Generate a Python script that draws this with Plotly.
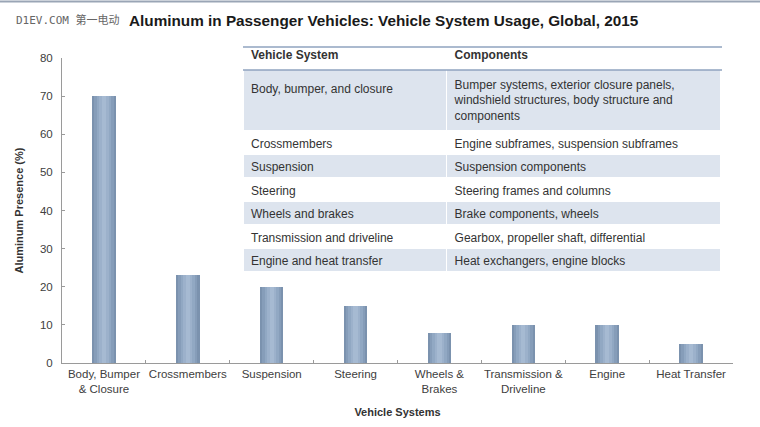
import plotly.graph_objects as go

categories = ["Body, Bumper<br>& Closure", "Crossmembers", "Suspension", "Steering",
              "Wheels &<br>Brakes", "Transmission &<br>Driveline", "Engine", "Heat Transfer"]
values = [70, 23, 20, 15, 8, 10, 10, 5]
y_ticks = [0, 10, 20, 30, 40, 50, 60, 70, 80]

table_header = ["Vehicle System", "Components"]
table_systems = ["<br>Body, bumper, and closure", "Crossmembers", "Suspension", "Steering",
                 "Wheels and brakes", "Transmission and driveline", "Engine and heat transfer"]
table_components = ["Bumper systems, exterior closure panels,<br>windshield structures, body structure and<br>components",
                    "Engine subframes, suspension subframes", "Suspension components",
                    "Steering frames and columns", "Brake components, wheels",
                    "Gearbox, propeller shaft, differential", "Heat exchangers, engine blocks"]

FONT = "Liberation Sans, Arial, sans-serif"
L, R, T, B = 62, 27, 20, 64
W, H = 760, 427
PW, PH = W - L - R, H - T - B
def px(x): return (x - L) / PW
def py(y): return (H - B - y) / PH

fig = go.Figure()

# layered bars to mimic the cylindrical gradient
layers = [(0.28, "#7b92ae"), (0.23, "#869db9"), (0.17, "#91a8c3"), (0.11, "#9cb1cb"), (0.05, "#a6bad2")]
for w, c in layers:
    fig.add_trace(go.Bar(x=categories, y=values, width=w, marker=dict(color=c, line=dict(width=0)),
                         showlegend=False, hoverinfo="skip"))

shade = "#dde4ee"
col1 = ["<b>%s</b>" % table_header[0]] + table_systems
col2 = ["<b>%s</b>" % table_header[1]] + table_components
fills = ["white"] + [shade if i % 2 == 0 else "white" for i in range(len(table_systems))]
fig.add_trace(go.Table(
    domain=dict(x=[px(243), px(722)], y=[0.15, min(1.0, py(47 - 23.5))]),
    columnwidth=[204, 275],
    header=dict(values=[], height=0, line=dict(width=0, color="rgba(0,0,0,0)"),
                fill_color="rgba(0,0,0,0)"),
    cells=dict(values=[col1, col2], height=23.5, align="left",
               fill_color=[fills, fills], line=dict(color="white", width=1.5),
               font=dict(family=FONT, size=12, color="#333333")),
))

for yy in [47, 70]:
    fig.add_shape(type="line", xref="paper", yref="paper", x0=px(243), x1=px(722),
                  y0=py(yy), y1=py(yy), line=dict(color="#8fa3bf", width=1.5))

fig.update_layout(
    width=W, height=H,
    margin=dict(l=L, r=R, t=T, b=B, autoexpand=False),
    paper_bgcolor="white", plot_bgcolor="white",
    barmode="overlay", bargap=0,
    font=dict(family=FONT, size=11, color="#404040"),
    xaxis=dict(showline=True, linecolor="#9a9a9a", linewidth=1, ticks="inside", ticklen=3,
               tickcolor="#9a9a9a", tickson="boundaries", showgrid=False, tickangle=0, automargin=False,
               tickfont=dict(size=11.5, color="#404040"),
               title=dict(text="<b>Vehicle Systems</b>", font=dict(size=11, color="#333333"), standoff=14)),
    yaxis=dict(range=[0, 80], domain=[0, (H - B - 58) / PH], tickvals=y_ticks, showline=True,
               linecolor="#9a9a9a", linewidth=1, ticks="inside", ticklen=3, tickcolor="#9a9a9a",
               showgrid=False, zeroline=False, ticklabelstandoff=6, automargin=False,
               tickfont=dict(size=11.5, color="#404040"),
               title=dict(text="<b>Aluminum Presence (%)</b>", font=dict(size=11, color="#333333"), standoff=14)),
)

fig.add_annotation(text="<b>Aluminum in Passenger Vehicles: Vehicle System Usage, Global, 2015</b>",
                   xref="paper", yref="paper", x=px(127), y=py(20),
                   xanchor="left", yanchor="middle", showarrow=False,
                   font=dict(family=FONT, size=15.3, color="#1a1a1a"))
fig.add_annotation(text="D1EV.COM 第一电动", xref="paper", yref="paper",
                   x=px(14), y=py(20), xanchor="left", yanchor="middle",
                   showarrow=False, font=dict(family="DejaVu Sans Mono, Noto Sans CJK SC", size=11, color="#666666"))
fig.add_shape(type="line", xref="paper", yref="paper", x0=px(0), x1=px(W),
              y0=py(1.5), y1=py(1.5), line=dict(color="#9aa5b5", width=2))

fig.write_html("out.html", config={"displayModeBar": False},
               post_script="document.body.style.margin='0';")
